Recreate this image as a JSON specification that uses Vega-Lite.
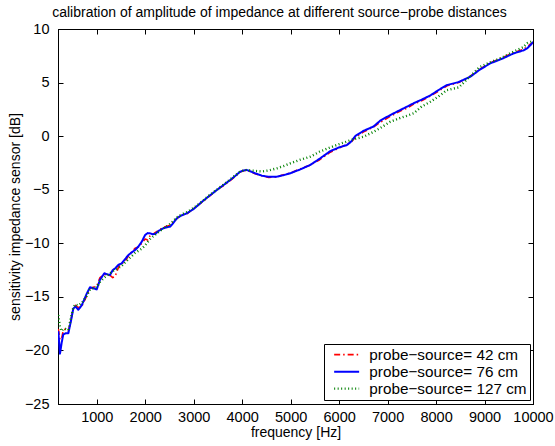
{
  "$schema": "https://vega.github.io/schema/vega-lite/v6.json",
  "width": 475,
  "height": 375,
  "autosize": {"type": "none"},
  "padding": {"left": 58, "top": 29, "right": 22, "bottom": 42},
  "background": "white",
  "title": {"text": "calibration of amplitude of impedance at different source−probe distances", "font": "Liberation Sans", "fontSize": 14, "fontWeight": "normal", "color": "black", "anchor": "middle", "offset": 1.5, "dx": -16},
  "config": {
    "view": {"stroke": "black", "strokeWidth": 1},
    "axis": {"grid": false, "domainColor": "black", "tickColor": "black", "labelColor": "black", "titleColor": "black", "labelFont": "Liberation Sans", "titleFont": "Liberation Sans", "labelFontSize": 14.5, "titleFontSize": 14, "titleFontWeight": "normal", "tickSize": -5, "domainWidth": 1, "tickWidth": 1}
  },
  "datasets": {
    "d": [
      {"s": "probe−source= 42 cm", "f": 206, "v": -18.0}, {"s": "probe−source= 42 cm", "f": 241, "v": -19.0}, {"s": "probe−source= 42 cm", "f": 275, "v": -18.9}, {"s": "probe−source= 42 cm", "f": 309, "v": -18.1}, {"s": "probe−source= 42 cm", "f": 360, "v": -18.0}, {"s": "probe−source= 42 cm", "f": 413, "v": -18.2}, {"s": "probe−source= 42 cm", "f": 465, "v": -17.2}, {"s": "probe−source= 42 cm", "f": 516, "v": -16.0}, {"s": "probe−source= 42 cm", "f": 560, "v": -15.8}, {"s": "probe−source= 42 cm", "f": 619, "v": -16.0}, {"s": "probe−source= 42 cm", "f": 689, "v": -15.9}, {"s": "probe−source= 42 cm", "f": 793, "v": -14.9}, {"s": "probe−source= 42 cm", "f": 861, "v": -14.2}, {"s": "probe−source= 42 cm", "f": 930, "v": -14.1}, {"s": "probe−source= 42 cm", "f": 999, "v": -14.0}, {"s": "probe−source= 42 cm", "f": 1067, "v": -13.2}, {"s": "probe−source= 42 cm", "f": 1156, "v": -12.9}, {"s": "probe−source= 42 cm", "f": 1215, "v": -12.95}, {"s": "probe−source= 42 cm", "f": 1274, "v": -13.0}, {"s": "probe−source= 42 cm", "f": 1330, "v": -13.2}, {"s": "probe−source= 42 cm", "f": 1377, "v": -13.1}, {"s": "probe−source= 42 cm", "f": 1450, "v": -12.2}, {"s": "probe−source= 42 cm", "f": 1515, "v": -11.9}, {"s": "probe−source= 42 cm", "f": 1580, "v": -11.7}, {"s": "probe−source= 42 cm", "f": 1652, "v": -11.2}, {"s": "probe−source= 42 cm", "f": 1720, "v": -10.8}, {"s": "probe−source= 42 cm", "f": 1790, "v": -10.47}, {"s": "probe−source= 42 cm", "f": 1860, "v": -10.35}, {"s": "probe−source= 42 cm", "f": 1928, "v": -10.0}, {"s": "probe−source= 42 cm", "f": 1997, "v": -9.6}, {"s": "probe−source= 42 cm", "f": 2050, "v": -9.7}, {"s": "probe−source= 42 cm", "f": 2100, "v": -9.3}, {"s": "probe−source= 42 cm", "f": 2150, "v": -9.2}, {"s": "probe−source= 42 cm", "f": 2203, "v": -9.0}, {"s": "probe−source= 42 cm", "f": 2290, "v": -8.75}, {"s": "probe−source= 42 cm", "f": 2375, "v": -8.5}, {"s": "probe−source= 42 cm", "f": 2450, "v": -8.4}, {"s": "probe−source= 42 cm", "f": 2513, "v": -8.3}, {"s": "probe−source= 42 cm", "f": 2580, "v": -8.0}, {"s": "probe−source= 42 cm", "f": 2651, "v": -7.7}, {"s": "probe−source= 42 cm", "f": 2750, "v": -7.35}, {"s": "probe−source= 42 cm", "f": 2858, "v": -7.25}, {"s": "probe−source= 42 cm", "f": 3000, "v": -6.75}, {"s": "probe−source= 42 cm", "f": 3133, "v": -6.3}, {"s": "probe−source= 42 cm", "f": 3300, "v": -5.7}, {"s": "probe−source= 42 cm", "f": 3477, "v": -5.0}, {"s": "probe−source= 42 cm", "f": 3620, "v": -4.6}, {"s": "probe−source= 42 cm", "f": 3752, "v": -4.15}, {"s": "probe−source= 42 cm", "f": 3860, "v": -3.75}, {"s": "probe−source= 42 cm", "f": 3958, "v": -3.35}, {"s": "probe−source= 42 cm", "f": 4030, "v": -3.22}, {"s": "probe−source= 42 cm", "f": 4096, "v": -3.2}, {"s": "probe−source= 42 cm", "f": 4180, "v": -3.35}, {"s": "probe−source= 42 cm", "f": 4268, "v": -3.5}, {"s": "probe−source= 42 cm", "f": 4406, "v": -3.7}, {"s": "probe−source= 42 cm", "f": 4550, "v": -3.85}, {"s": "probe−source= 42 cm", "f": 4716, "v": -3.8}, {"s": "probe−source= 42 cm", "f": 4850, "v": -3.6}, {"s": "probe−source= 42 cm", "f": 4991, "v": -3.45}, {"s": "probe−source= 42 cm", "f": 5200, "v": -3.05}, {"s": "probe−source= 42 cm", "f": 5404, "v": -2.7}, {"s": "probe−source= 42 cm", "f": 5600, "v": -2.2}, {"s": "probe−source= 42 cm", "f": 5817, "v": -1.5}, {"s": "probe−source= 42 cm", "f": 6000, "v": -1.1}, {"s": "probe−source= 42 cm", "f": 6162, "v": -0.75}, {"s": "probe−source= 42 cm", "f": 6250, "v": -0.55}, {"s": "probe−source= 42 cm", "f": 6333, "v": -0.1}, {"s": "probe−source= 42 cm", "f": 6505, "v": 0.4}, {"s": "probe−source= 42 cm", "f": 6711, "v": 0.85}, {"s": "probe−source= 42 cm", "f": 6849, "v": 1.3}, {"s": "probe−source= 42 cm", "f": 7056, "v": 1.85}, {"s": "probe−source= 42 cm", "f": 7262, "v": 2.35}, {"s": "probe−source= 42 cm", "f": 7400, "v": 2.6}, {"s": "probe−source= 42 cm", "f": 7537, "v": 3.0}, {"s": "probe−source= 42 cm", "f": 7700, "v": 3.3}, {"s": "probe−source= 42 cm", "f": 7882, "v": 3.75}, {"s": "probe−source= 42 cm", "f": 8050, "v": 4.2}, {"s": "probe−source= 42 cm", "f": 8227, "v": 4.7}, {"s": "probe−source= 42 cm", "f": 8467, "v": 5.0}, {"s": "probe−source= 42 cm", "f": 8708, "v": 5.6}, {"s": "probe−source= 42 cm", "f": 8900, "v": 6.25}, {"s": "probe−source= 42 cm", "f": 9121, "v": 6.85}, {"s": "probe−source= 42 cm", "f": 9350, "v": 7.3}, {"s": "probe−source= 42 cm", "f": 9603, "v": 7.8}, {"s": "probe−source= 42 cm", "f": 9800, "v": 8.1}, {"s": "probe−source= 42 cm", "f": 9879, "v": 8.35}, {"s": "probe−source= 42 cm", "f": 9950, "v": 8.6}, {"s": "probe−source= 42 cm", "f": 10000, "v": 8.7},
      {"s": "probe−source= 76 cm", "f": 206, "v": -18.2}, {"s": "probe−source= 76 cm", "f": 241, "v": -20.3}, {"s": "probe−source= 76 cm", "f": 275, "v": -19.3}, {"s": "probe−source= 76 cm", "f": 309, "v": -18.5}, {"s": "probe−source= 76 cm", "f": 360, "v": -18.4}, {"s": "probe−source= 76 cm", "f": 413, "v": -18.4}, {"s": "probe−source= 76 cm", "f": 465, "v": -17.3}, {"s": "probe−source= 76 cm", "f": 516, "v": -16.1}, {"s": "probe−source= 76 cm", "f": 560, "v": -15.9}, {"s": "probe−source= 76 cm", "f": 619, "v": -16.2}, {"s": "probe−source= 76 cm", "f": 689, "v": -15.8}, {"s": "probe−source= 76 cm", "f": 793, "v": -14.7}, {"s": "probe−source= 76 cm", "f": 861, "v": -14.1}, {"s": "probe−source= 76 cm", "f": 930, "v": -14.2}, {"s": "probe−source= 76 cm", "f": 999, "v": -14.3}, {"s": "probe−source= 76 cm", "f": 1067, "v": -13.4}, {"s": "probe−source= 76 cm", "f": 1156, "v": -12.8}, {"s": "probe−source= 76 cm", "f": 1215, "v": -12.9}, {"s": "probe−source= 76 cm", "f": 1274, "v": -12.95}, {"s": "probe−source= 76 cm", "f": 1330, "v": -12.5}, {"s": "probe−source= 76 cm", "f": 1377, "v": -12.35}, {"s": "probe−source= 76 cm", "f": 1450, "v": -12.0}, {"s": "probe−source= 76 cm", "f": 1515, "v": -11.87}, {"s": "probe−source= 76 cm", "f": 1580, "v": -11.5}, {"s": "probe−source= 76 cm", "f": 1652, "v": -11.1}, {"s": "probe−source= 76 cm", "f": 1720, "v": -10.85}, {"s": "probe−source= 76 cm", "f": 1790, "v": -10.63}, {"s": "probe−source= 76 cm", "f": 1860, "v": -10.3}, {"s": "probe−source= 76 cm", "f": 1928, "v": -9.85}, {"s": "probe−source= 76 cm", "f": 1997, "v": -9.23}, {"s": "probe−source= 76 cm", "f": 2050, "v": -9.05}, {"s": "probe−source= 76 cm", "f": 2100, "v": -9.07}, {"s": "probe−source= 76 cm", "f": 2150, "v": -9.15}, {"s": "probe−source= 76 cm", "f": 2203, "v": -9.13}, {"s": "probe−source= 76 cm", "f": 2290, "v": -8.8}, {"s": "probe−source= 76 cm", "f": 2375, "v": -8.6}, {"s": "probe−source= 76 cm", "f": 2450, "v": -8.5}, {"s": "probe−source= 76 cm", "f": 2513, "v": -8.45}, {"s": "probe−source= 76 cm", "f": 2580, "v": -8.1}, {"s": "probe−source= 76 cm", "f": 2651, "v": -7.67}, {"s": "probe−source= 76 cm", "f": 2750, "v": -7.4}, {"s": "probe−source= 76 cm", "f": 2858, "v": -7.2}, {"s": "probe−source= 76 cm", "f": 3000, "v": -6.8}, {"s": "probe−source= 76 cm", "f": 3133, "v": -6.27}, {"s": "probe−source= 76 cm", "f": 3300, "v": -5.65}, {"s": "probe−source= 76 cm", "f": 3477, "v": -5.03}, {"s": "probe−source= 76 cm", "f": 3620, "v": -4.55}, {"s": "probe−source= 76 cm", "f": 3752, "v": -4.1}, {"s": "probe−source= 76 cm", "f": 3860, "v": -3.7}, {"s": "probe−source= 76 cm", "f": 3958, "v": -3.32}, {"s": "probe−source= 76 cm", "f": 4030, "v": -3.2}, {"s": "probe−source= 76 cm", "f": 4096, "v": -3.16}, {"s": "probe−source= 76 cm", "f": 4180, "v": -3.3}, {"s": "probe−source= 76 cm", "f": 4268, "v": -3.47}, {"s": "probe−source= 76 cm", "f": 4406, "v": -3.69}, {"s": "probe−source= 76 cm", "f": 4550, "v": -3.8}, {"s": "probe−source= 76 cm", "f": 4716, "v": -3.78}, {"s": "probe−source= 76 cm", "f": 4850, "v": -3.65}, {"s": "probe−source= 76 cm", "f": 4991, "v": -3.47}, {"s": "probe−source= 76 cm", "f": 5200, "v": -3.1}, {"s": "probe−source= 76 cm", "f": 5404, "v": -2.69}, {"s": "probe−source= 76 cm", "f": 5600, "v": -2.1}, {"s": "probe−source= 76 cm", "f": 5817, "v": -1.4}, {"s": "probe−source= 76 cm", "f": 6000, "v": -1.05}, {"s": "probe−source= 76 cm", "f": 6162, "v": -0.83}, {"s": "probe−source= 76 cm", "f": 6250, "v": -0.5}, {"s": "probe−source= 76 cm", "f": 6333, "v": 0.01}, {"s": "probe−source= 76 cm", "f": 6505, "v": 0.5}, {"s": "probe−source= 76 cm", "f": 6711, "v": 0.9}, {"s": "probe−source= 76 cm", "f": 6849, "v": 1.45}, {"s": "probe−source= 76 cm", "f": 7056, "v": 1.97}, {"s": "probe−source= 76 cm", "f": 7262, "v": 2.44}, {"s": "probe−source= 76 cm", "f": 7400, "v": 2.75}, {"s": "probe−source= 76 cm", "f": 7537, "v": 3.07}, {"s": "probe−source= 76 cm", "f": 7700, "v": 3.4}, {"s": "probe−source= 76 cm", "f": 7882, "v": 3.8}, {"s": "probe−source= 76 cm", "f": 8050, "v": 4.3}, {"s": "probe−source= 76 cm", "f": 8227, "v": 4.77}, {"s": "probe−source= 76 cm", "f": 8467, "v": 5.05}, {"s": "probe−source= 76 cm", "f": 8708, "v": 5.55}, {"s": "probe−source= 76 cm", "f": 8900, "v": 6.2}, {"s": "probe−source= 76 cm", "f": 9121, "v": 6.8}, {"s": "probe−source= 76 cm", "f": 9350, "v": 7.2}, {"s": "probe−source= 76 cm", "f": 9603, "v": 7.73}, {"s": "probe−source= 76 cm", "f": 9800, "v": 8.0}, {"s": "probe−source= 76 cm", "f": 9879, "v": 8.2}, {"s": "probe−source= 76 cm", "f": 9950, "v": 8.5}, {"s": "probe−source= 76 cm", "f": 10000, "v": 8.8},
      {"s": "probe−source= 127 cm", "f": 206, "v": -16.7}, {"s": "probe−source= 127 cm", "f": 241, "v": -17.8}, {"s": "probe−source= 127 cm", "f": 275, "v": -18.2}, {"s": "probe−source= 127 cm", "f": 309, "v": -18.0}, {"s": "probe−source= 127 cm", "f": 360, "v": -18.0}, {"s": "probe−source= 127 cm", "f": 413, "v": -18.1}, {"s": "probe−source= 127 cm", "f": 465, "v": -17.0}, {"s": "probe−source= 127 cm", "f": 516, "v": -16.0}, {"s": "probe−source= 127 cm", "f": 560, "v": -15.7}, {"s": "probe−source= 127 cm", "f": 619, "v": -15.8}, {"s": "probe−source= 127 cm", "f": 689, "v": -15.6}, {"s": "probe−source= 127 cm", "f": 793, "v": -14.9}, {"s": "probe−source= 127 cm", "f": 861, "v": -14.3}, {"s": "probe−source= 127 cm", "f": 930, "v": -14.2}, {"s": "probe−source= 127 cm", "f": 999, "v": -14.1}, {"s": "probe−source= 127 cm", "f": 1067, "v": -13.6}, {"s": "probe−source= 127 cm", "f": 1156, "v": -13.2}, {"s": "probe−source= 127 cm", "f": 1215, "v": -13.0}, {"s": "probe−source= 127 cm", "f": 1274, "v": -12.8}, {"s": "probe−source= 127 cm", "f": 1330, "v": -12.6}, {"s": "probe−source= 127 cm", "f": 1377, "v": -12.5}, {"s": "probe−source= 127 cm", "f": 1450, "v": -12.3}, {"s": "probe−source= 127 cm", "f": 1515, "v": -12.1}, {"s": "probe−source= 127 cm", "f": 1580, "v": -11.8}, {"s": "probe−source= 127 cm", "f": 1652, "v": -11.5}, {"s": "probe−source= 127 cm", "f": 1720, "v": -11.2}, {"s": "probe−source= 127 cm", "f": 1790, "v": -10.9}, {"s": "probe−source= 127 cm", "f": 1860, "v": -10.7}, {"s": "probe−source= 127 cm", "f": 1928, "v": -10.5}, {"s": "probe−source= 127 cm", "f": 1997, "v": -10.2}, {"s": "probe−source= 127 cm", "f": 2050, "v": -9.9}, {"s": "probe−source= 127 cm", "f": 2100, "v": -9.6}, {"s": "probe−source= 127 cm", "f": 2150, "v": -9.4}, {"s": "probe−source= 127 cm", "f": 2203, "v": -9.2}, {"s": "probe−source= 127 cm", "f": 2290, "v": -8.9}, {"s": "probe−source= 127 cm", "f": 2375, "v": -8.6}, {"s": "probe−source= 127 cm", "f": 2450, "v": -8.4}, {"s": "probe−source= 127 cm", "f": 2513, "v": -8.2}, {"s": "probe−source= 127 cm", "f": 2580, "v": -7.9}, {"s": "probe−source= 127 cm", "f": 2651, "v": -7.6}, {"s": "probe−source= 127 cm", "f": 2750, "v": -7.3}, {"s": "probe−source= 127 cm", "f": 2858, "v": -7.1}, {"s": "probe−source= 127 cm", "f": 3000, "v": -6.7}, {"s": "probe−source= 127 cm", "f": 3133, "v": -6.25}, {"s": "probe−source= 127 cm", "f": 3300, "v": -5.6}, {"s": "probe−source= 127 cm", "f": 3477, "v": -5.0}, {"s": "probe−source= 127 cm", "f": 3620, "v": -4.5}, {"s": "probe−source= 127 cm", "f": 3752, "v": -4.05}, {"s": "probe−source= 127 cm", "f": 3860, "v": -3.65}, {"s": "probe−source= 127 cm", "f": 3958, "v": -3.3}, {"s": "probe−source= 127 cm", "f": 4030, "v": -3.2}, {"s": "probe−source= 127 cm", "f": 4096, "v": -3.15}, {"s": "probe−source= 127 cm", "f": 4180, "v": -3.2}, {"s": "probe−source= 127 cm", "f": 4268, "v": -3.25}, {"s": "probe−source= 127 cm", "f": 4406, "v": -3.3}, {"s": "probe−source= 127 cm", "f": 4550, "v": -3.2}, {"s": "probe−source= 127 cm", "f": 4716, "v": -3.0}, {"s": "probe−source= 127 cm", "f": 4850, "v": -2.8}, {"s": "probe−source= 127 cm", "f": 4991, "v": -2.54}, {"s": "probe−source= 127 cm", "f": 5200, "v": -2.2}, {"s": "probe−source= 127 cm", "f": 5404, "v": -1.92}, {"s": "probe−source= 127 cm", "f": 5600, "v": -1.45}, {"s": "probe−source= 127 cm", "f": 5817, "v": -1.05}, {"s": "probe−source= 127 cm", "f": 6000, "v": -0.75}, {"s": "probe−source= 127 cm", "f": 6162, "v": -0.5}, {"s": "probe−source= 127 cm", "f": 6250, "v": -0.35}, {"s": "probe−source= 127 cm", "f": 6333, "v": -0.25}, {"s": "probe−source= 127 cm", "f": 6505, "v": -0.05}, {"s": "probe−source= 127 cm", "f": 6711, "v": 0.4}, {"s": "probe−source= 127 cm", "f": 6849, "v": 0.75}, {"s": "probe−source= 127 cm", "f": 7056, "v": 1.35}, {"s": "probe−source= 127 cm", "f": 7262, "v": 1.7}, {"s": "probe−source= 127 cm", "f": 7400, "v": 1.9}, {"s": "probe−source= 127 cm", "f": 7537, "v": 2.13}, {"s": "probe−source= 127 cm", "f": 7700, "v": 2.75}, {"s": "probe−source= 127 cm", "f": 7882, "v": 3.21}, {"s": "probe−source= 127 cm", "f": 8050, "v": 3.7}, {"s": "probe−source= 127 cm", "f": 8227, "v": 4.3}, {"s": "probe−source= 127 cm", "f": 8467, "v": 4.55}, {"s": "probe−source= 127 cm", "f": 8708, "v": 5.6}, {"s": "probe−source= 127 cm", "f": 8900, "v": 6.45}, {"s": "probe−source= 127 cm", "f": 9121, "v": 6.9}, {"s": "probe−source= 127 cm", "f": 9350, "v": 7.3}, {"s": "probe−source= 127 cm", "f": 9603, "v": 7.9}, {"s": "probe−source= 127 cm", "f": 9800, "v": 8.3}, {"s": "probe−source= 127 cm", "f": 9879, "v": 8.67}, {"s": "probe−source= 127 cm", "f": 9950, "v": 8.8}, {"s": "probe−source= 127 cm", "f": 10000, "v": 8.9}
    ]
  },
  "data": {"name": "d"},
  "layer": [
    {
      "mark": {"type": "line", "clip": true, "strokeJoin": "round"},
      "encoding": {
        "x": {"field": "f", "type": "quantitative", "scale": {"domain": [200, 10000], "nice": false, "zero": false}, "axis": {"values": [1000, 2000, 3000, 4000, 5000, 6000, 7000, 8000, 9000, 10000], "format": "d", "title": "frequency [Hz]", "labelPadding": 11, "titlePadding": 2, "labelFlush": false}},
        "y": {"field": "v", "type": "quantitative", "scale": {"domain": [-25, 10], "nice": false, "zero": false}, "axis": {"values": [-25, -20, -15, -10, -5, 0, 5, 10], "title": "sensitivity impedance sensor [dB]", "labelPadding": 14, "titlePadding": 2, "labelFlush": false}},
        "color": {"field": "s", "type": "nominal", "scale": {"domain": ["probe−source= 42 cm", "probe−source= 76 cm", "probe−source= 127 cm"], "range": ["#ff0000", "#0000ff", "#008000"]}, "legend": {"title": null, "orient": "none", "legendX": 266, "legendY": 315, "strokeColor": "black", "fillColor": "white", "padding": 3, "cornerRadius": 0, "symbolType": "M-2,0H2", "symbolSize": 156, "symbolOffset": 12, "symbolStrokeWidth": 1.5, "labelFont": "Liberation Sans", "labelFontSize": 15.3, "labelColor": "black", "labelOffset": 15, "rowPadding": 1, "labelLimit": 300}},
        "strokeDash": {"field": "s", "type": "nominal", "scale": {"domain": ["probe−source= 42 cm", "probe−source= 76 cm", "probe−source= 127 cm"], "range": [[6, 3, 1.5, 3], [1, 0], [1, 2.5]]}, "legend": {"title": null}},
        "strokeWidth": {"field": "s", "type": "nominal", "scale": {"domain": ["probe−source= 42 cm", "probe−source= 76 cm", "probe−source= 127 cm"], "range": [1.6, 2.4, 1]}, "legend": null}
      }
    },
    {
      "mark": {"type": "line", "opacity": 0},
      "encoding": {
        "x": {"field": "f", "type": "quantitative", "axis": {"orient": "top", "values": [1000, 2000, 3000, 4000, 5000, 6000, 7000, 8000, 9000, 10000], "labels": false, "title": null}},
        "y": {"field": "v", "type": "quantitative", "axis": {"orient": "right", "values": [-25, -20, -15, -10, -5, 0, 5, 10], "labels": false, "title": null}}
      }
    }
  ],
  "resolve": {"axis": {"x": "independent", "y": "independent"}}
}
